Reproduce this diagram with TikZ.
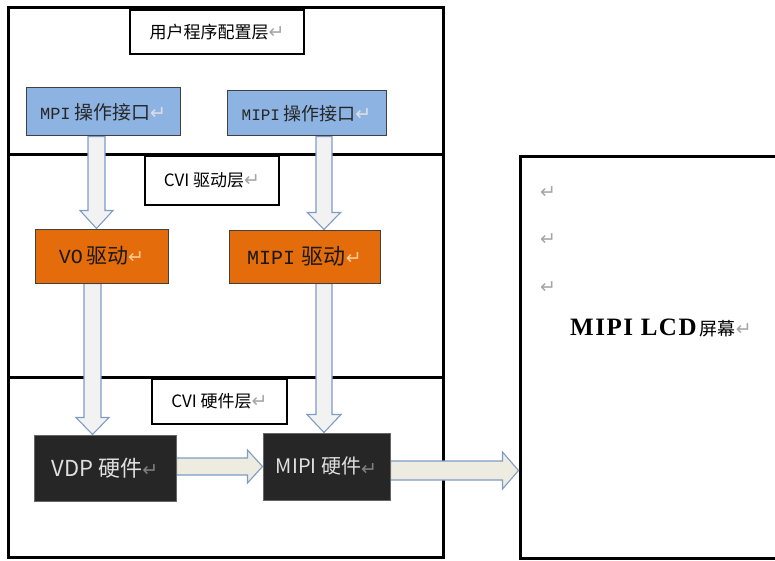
\documentclass[tikz,border=0pt]{standalone}
\usepackage{fontspec}
\newfontfamily\cjk{Noto Sans CJK SC}
\newfontfamily\mono{Liberation Mono}
\newfontfamily\serifb[LetterSpace=6]{Liberation Serif}
\newfontfamily\sym{DejaVu Sans}
\usetikzlibrary{calc}
\definecolor{blueBox}{HTML}{8DB3E2}
\definecolor{orangeBox}{HTML}{E46C0A}
\definecolor{darkBox}{HTML}{262626}
\definecolor{arrowLine}{HTML}{7E9CC4}
\definecolor{arrowFillA}{HTML}{F2F2F2}
\definecolor{arrowFillB}{HTML}{EEECE1}
\definecolor{retGray}{HTML}{A6A6A6}
\newcommand\retmark[1]{{\sym\fontsize{19}{19}\selectfont\textcolor{#1}{↵}}}
% vertical block arrow: from, to, x(px), half shaft, half head, head length
\newcommand\vblk[7]{\draw[blockarrow,fill=#7] let \p1=(#1.south), \p2=(#2.north) in
  (#3pt-#4pt,\y1) -- (#3pt-#4pt,\y2+#6pt) -- (#3pt-#5pt,\y2+#6pt) -- (#3pt,\y2)
  -- (#3pt+#5pt,\y2+#6pt) -- (#3pt+#4pt,\y2+#6pt) -- (#3pt+#4pt,\y1) -- cycle;}
% horizontal block arrow: from, to, y(px), half shaft, half head, head length
\newcommand\hblk[7]{\draw[blockarrow,fill=#7] let \p1=(#1.east), \p2=(#2.west) in
  (\x1,-#3pt+#4pt) -- (\x2-#6pt,-#3pt+#4pt) -- (\x2-#6pt,-#3pt+#5pt) -- (\x2,-#3pt)
  -- (\x2-#6pt,-#3pt-#5pt) -- (\x2-#6pt,-#3pt-#4pt) -- (\x1,-#3pt-#4pt) -- cycle;}
\tikzset{
  layerbox/.style={draw=black,line width=3pt,inner sep=0pt},
  titlebox/.style={draw=black,line width=1.5pt,fill=white,inner sep=0pt,font=\cjk\fontsize{17}{19}\selectfont},
  opbox/.style={draw=black!75,line width=1pt,fill=blueBox,inner sep=0pt,text=black!85},
  drvbox/.style={draw=black!75,line width=1pt,fill=orangeBox,inner sep=0pt,text=black!90},
  hwbox/.style={draw=black!60,line width=1pt,fill=darkBox,inner sep=0pt,text=white!88!black},
  blockarrow/.style={draw=arrowLine,line width=1.1pt,line join=miter},
}
\begin{document}
\begin{tikzpicture}[x=1pt,y=-1pt]
\useasboundingbox (0,0) rectangle (775,561);
% layers
\node[layerbox,minimum width=435,minimum height=147] (layer1) at (225.5,81.5) {};
\node[layerbox,minimum width=435,minimum height=222] (layer2) at (225.5,266) {};
\node[layerbox,minimum width=435,minimum height=180] (layer3) at (225.5,467) {};
\node[layerbox,minimum width=270,minimum height=401] (lcd) at (655,357.5) {};
% box outlines, used as arrow ends
\path (103,112) node[opbox,minimum width=154,minimum height=48] (mpi) {};
\path (306.5,113.5) node[opbox,minimum width=159,minimum height=45] (mipiop) {};
\path (101.5,256) node[drvbox,minimum width=133,minimum height=54] (vo) {};
\path (304.5,256.5) node[drvbox,minimum width=151,minimum height=53] (mipidrv) {};
\path (105,468) node[hwbox,minimum width=142,minimum height=66] (vdp) {};
\path (326.5,466.5) node[hwbox,minimum width=127,minimum height=67] (mipihw) {};
% arrows
\vblk{mpi}{vo}{96.5}{8.5}{16.5}{18}{arrowFillA}
\vblk{mipiop}{mipidrv}{324}{8}{16.5}{17}{arrowFillA}
\vblk{vo}{vdp}{92.5}{8.5}{16.5}{17}{arrowFillA}
\vblk{mipidrv}{mipihw}{324}{8}{17}{18}{arrowFillA}
\hblk{vdp}{mipihw}{466.5}{8.5}{16.5}{15}{arrowFillB}
\hblk{mipihw}{lcd}{470.5}{9.5}{18.5}{16}{arrowFillB}
% boxes with text on top
\node[opbox,minimum width=154,minimum height=48] (mpiT) at (mpi.center)
  {{\mono\fontsize{17}{18}\selectfont MPI} {\cjk\fontsize{19}{21}\selectfont 操作接口}\retmark{white!75!gray}};
\node[opbox,minimum width=159,minimum height=45] (mipiopT) at (mipiop.center)
  {{\mono\fontsize{16}{18}\selectfont MIPI} {\cjk\fontsize{18}{20}\selectfont 操作接口}\retmark{white!75!gray}};
\node[drvbox,minimum width=133,minimum height=54] (voT) at (vo.center)
  {{\mono\fontsize{20}{22}\selectfont VO} {\cjk\fontsize{21}{23}\selectfont 驱动}\retmark{orange!40!white}};
\node[drvbox,minimum width=151,minimum height=53] (mipidrvT) at (mipidrv.center)
  {{\mono\fontsize{20}{22}\selectfont MIPI} \ {\cjk\fontsize{22}{24}\selectfont 驱动}\retmark{orange!40!white}};
\node[hwbox,minimum width=142,minimum height=66,font=\cjk\fontsize{22}{24}\selectfont] (vdpT) at (vdp.center) {VDP 硬件\retmark{gray}};
\node[hwbox,minimum width=127,minimum height=67,font=\cjk\fontsize{20}{22}\selectfont] (mipihwT) at (mipihw.center) {\raisebox{2pt}{MIPI 硬件}\retmark{gray}};
% titles
\node[titlebox,minimum width=174,minimum height=44] (t1) at (217,32) {用户程序配置层\retmark{retGray}};
\node[titlebox,minimum width=134,minimum height=49] (t2) at (212,180.5) {CVI 驱动层\retmark{retGray}};
\node[titlebox,minimum width=135,minimum height=45] (t3) at (219.5,401.5) {CVI 硬件层\retmark{retGray}};
% LCD text
\node[inner sep=0pt] (lcdtext) at (661,328)
  {{\serifb\bfseries\fontsize{25}{27}\selectfont MIPI LCD} {\cjk\fontsize{18}{20}\selectfont 屏幕}\retmark{retGray}};
\node[inner sep=0pt] (r1) at (548,193) {\retmark{retGray}};
\node[inner sep=0pt] (r2) at (548,240) {\retmark{retGray}};
\node[inner sep=0pt] (r3) at (548,288) {\retmark{retGray}};
\end{tikzpicture}
\end{document}
